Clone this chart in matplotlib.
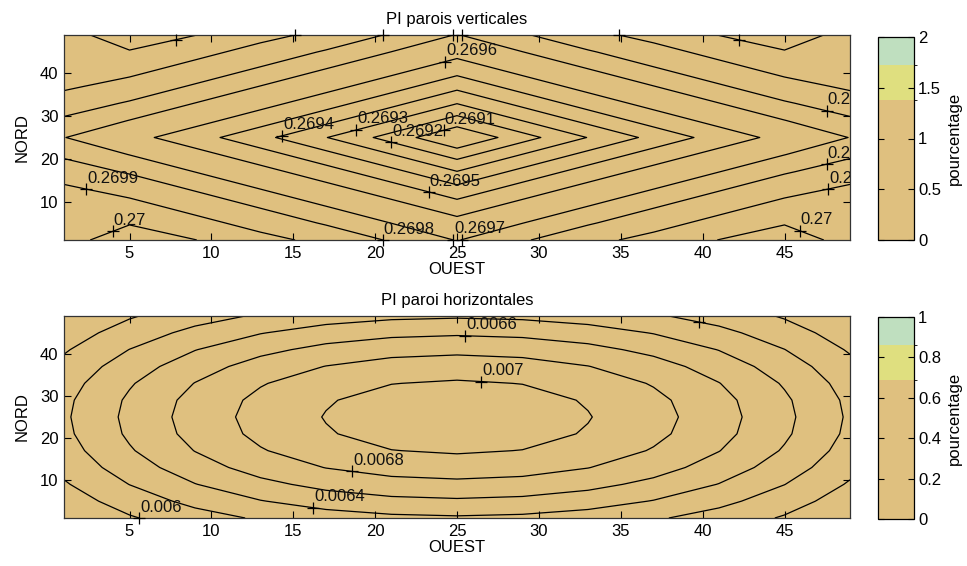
import numpy as np
import matplotlib
matplotlib.use('Agg')
import matplotlib.pyplot as plt
from matplotlib.colors import ListedColormap, BoundaryNorm
from matplotlib.ticker import FuncFormatter

plt.rcParams['font.family'] = ['Liberation Sans', 'DejaVu Sans']
plt.rcParams['font.size'] = 12

# grid nodes (every 4 cells)
ouest = [1, 5, 9, 13, 17, 21, 25, 29, 33, 37, 41, 45, 49]
nord = [1, 5, 9, 13, 17, 21, 25, 29, 33, 37, 41, 45, 49]

# PI parois verticales (rows = NORD from 1 to 49, cols = OUEST from 1 to 49)
pi_vert = [
    [0.26999, 0.270015, 0.270002, 0.269928, 0.269875, 0.269789, 0.269695, 0.269789, 0.269875, 0.269928, 0.270002, 0.270015, 0.26999],
    [0.269975, 0.269998, 0.269928, 0.269867, 0.269789, 0.269698, 0.269634, 0.269698, 0.269789, 0.269867, 0.269928, 0.269998, 0.269975],
    [0.26995, 0.269928, 0.269867, 0.269789, 0.269698, 0.269634, 0.269544, 0.269634, 0.269698, 0.269789, 0.269867, 0.269928, 0.26995],
    [0.269915, 0.269867, 0.269789, 0.269698, 0.269634, 0.269544, 0.269429, 0.269544, 0.269634, 0.269698, 0.269789, 0.269867, 0.269915],
    [0.269856, 0.269789, 0.269698, 0.269634, 0.269544, 0.269429, 0.269303, 0.269429, 0.269544, 0.269634, 0.269698, 0.269789, 0.269856],
    [0.269783, 0.269698, 0.269634, 0.269544, 0.269429, 0.269303, 0.26916, 0.269303, 0.269429, 0.269544, 0.269634, 0.269698, 0.269783],
    [0.269702, 0.269634, 0.269544, 0.269429, 0.269303, 0.26916, 0.2690, 0.26916, 0.269303, 0.269429, 0.269544, 0.269634, 0.269702],
    [0.269783, 0.269698, 0.269634, 0.269544, 0.269429, 0.269303, 0.26916, 0.269303, 0.269429, 0.269544, 0.269634, 0.269698, 0.269783],
    [0.269856, 0.269789, 0.269698, 0.269634, 0.269544, 0.269429, 0.269303, 0.269429, 0.269544, 0.269634, 0.269698, 0.269789, 0.269856],
    [0.269915, 0.269867, 0.269789, 0.269698, 0.269634, 0.269544, 0.269429, 0.269544, 0.269634, 0.269698, 0.269789, 0.269867, 0.269915],
    [0.26995, 0.269928, 0.269867, 0.269789, 0.269698, 0.269634, 0.269544, 0.269634, 0.269698, 0.269789, 0.269867, 0.269928, 0.26995],
    [0.269975, 0.269998, 0.269928, 0.269867, 0.269789, 0.269698, 0.269634, 0.269698, 0.269789, 0.269867, 0.269928, 0.269998, 0.269975],
    [0.26999, 0.270015, 0.270002, 0.269928, 0.269875, 0.269789, 0.269695, 0.269789, 0.269875, 0.269928, 0.270002, 0.270015, 0.26999],
]

# PI paroi horizontales, in millionths
pi_horiz_micro = [
    [5824, 5980, 6115, 6226, 6308, 6358, 6375, 6358, 6308, 6226, 6115, 5980, 5824],
    [5898, 6091, 6257, 6391, 6490, 6550, 6571, 6550, 6490, 6391, 6257, 6091, 5898],
    [5979, 6203, 6394, 6547, 6660, 6729, 6752, 6729, 6660, 6547, 6394, 6203, 5979],
    [6056, 6303, 6513, 6682, 6805, 6880, 6905, 6880, 6805, 6682, 6513, 6303, 6056],
    [6117, 6381, 6605, 6785, 6916, 6996, 7022, 6996, 6916, 6785, 6605, 6381, 6117],
    [6157, 6431, 6664, 6850, 6985, 7068, 7095, 7068, 6985, 6850, 6664, 6431, 6157],
    [6171, 6448, 6683, 6872, 7009, 7092, 7120, 7092, 7009, 6872, 6683, 6448, 6171],
    [6157, 6431, 6664, 6850, 6985, 7068, 7095, 7068, 6985, 6850, 6664, 6431, 6157],
    [6117, 6381, 6605, 6785, 6916, 6996, 7022, 6996, 6916, 6785, 6605, 6381, 6117],
    [6056, 6303, 6513, 6682, 6805, 6880, 6905, 6880, 6805, 6682, 6513, 6303, 6056],
    [5979, 6203, 6394, 6547, 6660, 6729, 6752, 6729, 6660, 6547, 6394, 6203, 5979],
    [5898, 6091, 6257, 6391, 6490, 6550, 6571, 6550, 6490, 6391, 6257, 6091, 5898],
    [5824, 5980, 6115, 6226, 6308, 6358, 6375, 6358, 6308, 6226, 6115, 5980, 5824],
]

levels_vert = [0.2691, 0.2692, 0.2693, 0.2694, 0.2695, 0.2696, 0.2697, 0.2698, 0.2699, 0.2700]
levels_horiz = [0.0060, 0.0062, 0.0064, 0.0066, 0.0068, 0.0070]

# colour scale (pourcentage)
cbar_bounds_vert = [0, 1.375, 1.72, 2]
cbar_ticks_vert = [0, 0.5, 1, 1.5, 2]
cbar_bounds_horiz = [0, 0.6875, 0.86, 1]
cbar_ticks_horiz = [0, 0.2, 0.4, 0.6, 0.8, 1]
band_colors = ['#dfc07f', '#dfdf7f', '#bfdfbf']

# where the contour labels sit (MATLAB clabel '+' points)
labels_vert = [(14.3, 25.9), (18.8, 27.6), (21.0, 24.0), (24.2, 26.7), (23.3, 12.4),
               (24.3, 42.5), (2.45, 14.4), (3.8, 4.7), (20.8, 1.7), (24.8, 1.3),
               (47.5, 29.8), (47.5, 20.0), (47.6, 14.4), (46.1, 4.8)]
# '+' marks whose text is hidden in the reference
marks_vert = [(25.3, 1.3), (7.9, 47.3), (15.9, 48.3), (20.8, 48.5), (24.8, 48.6),
              (25.3, 48.6), (34.1, 48.1), (42.2, 47.3)]
labels_horiz = [(25.5, 44.2), (26.5, 33.9), (18.6, 11.6), (16.2, 2.8), (6.1, 0.9)]
marks_horiz = [(39.8, 47.8)]

cmap = ListedColormap(band_colors)
X, Y = np.meshgrid(ouest, nord)
Z_vert = np.array(pi_vert)
Z_horiz = np.array(pi_horiz_micro) * 1e-6

fig = plt.figure(figsize=(9.67, 5.66), dpi=100)
W, H = 967, 566

ax1 = fig.add_axes([64 / W, 1 - 240 / H, 786 / W, 205 / H])
ax2 = fig.add_axes([64 / W, 1 - 518 / H, 786 / W, 202 / H])
cax1 = fig.add_axes([878 / W, 1 - 240 / H, 36 / W, 203 / H])
cax2 = fig.add_axes([878 / W, 1 - 519 / H, 36 / W, 202 / H])


def put_labels(ax, cs, positions, show_text=True):
    if not positions:
        return
    n0 = len(cs.labelTexts)
    ax.clabel(cs, manual=positions, inline=False, fontsize=12,
              fmt=lambda v: f'{v:.4g}')
    for t in list(cs.labelTexts[n0:]):
        x, y = t.get_position()
        s = t.get_text()
        t.set_visible(False)
        ax.plot(x, y, marker='+', color='k', ms=8, mew=0.9, clip_on=False, zorder=5)
        if show_text:
            ax.annotate(s, (x, y), xytext=(0.5, 2.5), textcoords='offset points',
                        ha='left', va='bottom', fontsize=12, color='#111111',
                        clip_on=True, zorder=6)


panels = [
    (ax1, cax1, Z_vert, levels_vert, cbar_bounds_vert, cbar_ticks_vert,
     labels_vert, marks_vert, 'PI parois verticales'),
    (ax2, cax2, Z_horiz, levels_horiz, cbar_bounds_horiz, cbar_ticks_horiz,
     labels_horiz, marks_horiz, 'PI paroi horizontales'),
]

for ax, cax, Z, levels, bounds, cticks, labpos, markpos, title in panels:
    norm = BoundaryNorm(bounds, cmap.N)
    cf = ax.contourf(X, Y, Z, levels=bounds, cmap=cmap, norm=norm)
    cs = ax.contour(X, Y, Z, levels=levels, colors='k', linewidths=0.9)
    put_labels(ax, cs, labpos, show_text=True)
    put_labels(ax, cs, markpos, show_text=False)

    ax.set_xlim(1, 49)
    ax.set_ylim(1, 49)
    ax.set_xticks([5, 10, 15, 20, 25, 30, 35, 40, 45])
    ax.set_yticks([10, 20, 30, 40])
    ax.tick_params(direction='in', top=True, right=True, length=5, width=0.8,
                   labelsize=12, pad=4)
    for sp in ax.spines.values():
        sp.set_linewidth(0.9)
        sp.set_color('#333333')
    ax.set_title(title, fontsize=12, pad=8)
    ax.set_xlabel('OUEST', fontsize=12, labelpad=1)
    ax.set_ylabel('NORD', fontsize=12, labelpad=7)

    cb = fig.colorbar(cf, cax=cax, spacing='proportional', ticks=cticks)
    cb.ax.yaxis.set_major_formatter(FuncFormatter(lambda v, p: f'{v:g}'))
    cb.ax.tick_params(direction='in', left=True, right=True, length=4, width=0.8,
                      labelsize=12, pad=3)
    cb.outline.set_linewidth(0.9)
    cb.set_label('pourcentage', fontsize=12, labelpad=4)

fig.savefig('out.png', dpi=100)
